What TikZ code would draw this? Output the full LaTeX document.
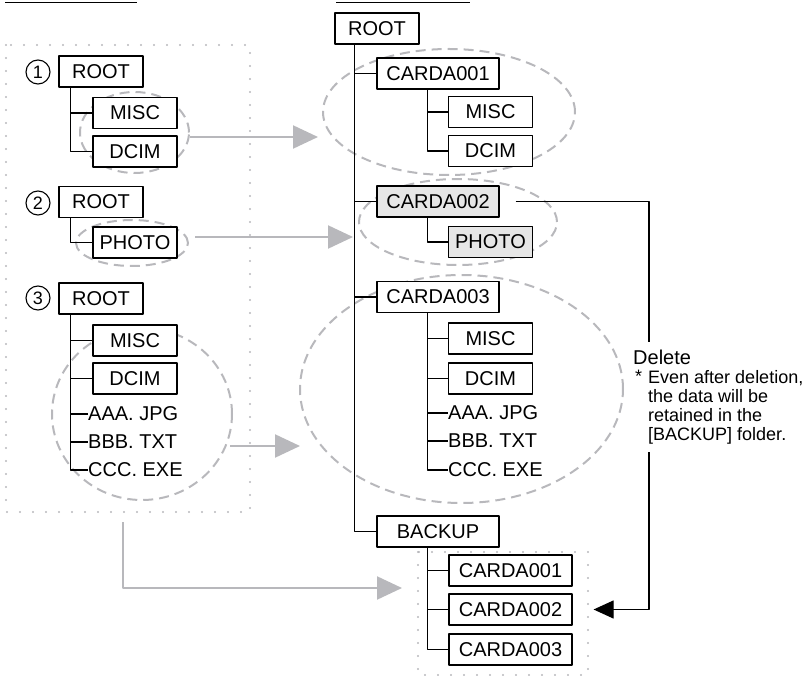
\documentclass[tikz,border=0pt]{standalone}
\usepackage{fontspec}
\setmainfont{Liberation Sans}
\usetikzlibrary{arrows.meta,shapes.geometric}
\definecolor{lgray}{RGB}{184,184,188}
\definecolor{fgray}{RGB}{230,230,230}
\begin{document}
\begin{tikzpicture}[x=1pt,y=-1pt,line join=round,font=\fontsize{20}{24}\selectfont,
	box/.style={draw,line width=1.2pt,fill=white,inner sep=0pt,minimum width=84pt,minimum height=31pt},
	wbox/.style={box,minimum width=122pt},
	grey/.style={fill=fgray},
	file/.style={anchor=west,inner sep=0pt},
	tree/.style={line width=1.2pt},
	ring/.style={ellipse,draw=lgray,line width=2pt,dash pattern=on 10pt off 6pt,inner sep=0pt},
	feed/.style={draw=lgray,line width=2.2pt,-{Triangle[length=25pt,width=23pt]}},
	dots/.style={draw=lgray,line width=2.4pt,line cap=round,dash pattern=on 0pt off 13pt},
	num/.style={draw,circle,line width=1.1pt,minimum size=24pt,inner sep=0pt,font=\fontsize{18}{20}\selectfont},
	note/.style={inner sep=0pt,font=\fontsize{18}{19}\selectfont}]
	\useasboundingbox (0,0) rectangle (809,676);
	\path
	(123,522) coordinate (out4)
	(402,588) coordinate (in4)
	(318,137) coordinate (in1)
	(195,237) coordinate (out2)
	(353,237) coordinate (in2)
	(230,446) coordinate (out3)
	(300,446) coordinate (in3)
	(649,342) coordinate (dtop)
	(649,452) coordinate (dbot)
	;
	% underlines of the column titles
	\draw[line width=1.2pt] (5,2.5) -- (137,2.5) (336,2.5) -- (470,2.5);
	% dotted frames
	\draw[dots] (6,45) rectangle (250,512);
	\draw[dots] (418,552) rectangle (588,675);
	% dashed rings
	\node[ring,minimum width=109pt,minimum height=81pt] (e1) at (134.5,132.5) {};
	\node[ring,minimum width=112pt,minimum height=46pt] (e2) at (132,243) {};
	\node[ring,minimum width=180pt,minimum height=172pt] (e3) at (142,414) {};
	\node[ring,minimum width=252pt,minimum height=126pt] (eA) at (449,112) {};
	\node[ring,minimum width=198pt,minimum height=86pt] (eB) at (458,222) {};
	\node[ring,minimum width=323pt,minimum height=228pt] (eC) at (461.5,389) {};
	% memory card
	\node[num] (n1) at (38,72) {1};
	\node[num] (n2) at (38,203) {2};
	\node[num] (n3) at (38,298) {3};
	\node[box] (root1) at (101,71.5) {ROOT};
	\node[box] (misc1) at (135,113) {MISC};
	\node[box] (dcim1) at (135,151.5) {DCIM};
	\node[box] (root2) at (101,202) {ROOT};
	\node[box] (photo2) at (135,242.5) {PHOTO};
	\node[box] (root3) at (101,298.5) {ROOT};
	\node[box] (misc3) at (135,340.5) {MISC};
	\node[box] (dcim3) at (135,378.5) {DCIM};
	\foreach \n/\t/\y in {aaa3/AAA. JPG/414,bbb3/BBB. TXT/442,ccc3/CCC. EXE/470}
		\node[file] (\n) at (88,\y) {\t};
	\foreach \p/\c in {root1/misc1,root1/dcim1,root2/photo2,root3/misc3,root3/dcim3,root3/aaa3,root3/bbb3,root3/ccc3}
		\draw[tree] ([xshift=12pt]\p.south west) |- (\c.west);
	% server
	\node[box] (rootR) at (377,28.5) {ROOT};
	\node[wbox] (carda1) at (438,73.5) {CARDA001};
	\node[box] (misc1R) at (490.5,112) {MISC};
	\node[box] (dcim1R) at (490.5,151) {DCIM};
	\node[wbox,grey] (carda2) at (438,201.5) {CARDA002};
	\node[box,grey] (photoR) at (490.5,242) {PHOTO};
	\node[wbox] (carda3) at (438,297) {CARDA003};
	\node[box] (misc3R) at (490.5,338.5) {MISC};
	\node[box] (dcim3R) at (490.5,378.5) {DCIM};
	\foreach \n/\t/\y in {aaaR/AAA. JPG/413,bbbR/BBB. TXT/441,cccR/CCC. EXE/470}
		\node[file] (\n) at (448,\y) {\t};
	\node[wbox] (backup) at (438,531.5) {BACKUP};
	\foreach \i/\y in {1/570.5,2/609.5,3/649.5}
		\node[wbox,minimum width=123pt] (bk\i) at (510.5,\y) {CARDA00\i};
	\foreach \c in {carda1,carda2,carda3,backup}
		\draw[tree] ([xshift=20pt]rootR.south west) |- (\c.west);
	\foreach \p/\c in {carda1/misc1R,carda1/dcim1R,carda2/photoR,carda3/misc3R,carda3/dcim3R,carda3/aaaR,carda3/bbbR,carda3/cccR,backup/bk1,backup/bk2,backup/bk3}
		\draw[tree] ([xshift=51pt]\p.south west) |- (\c.west);
	% copy arrows
	\draw[feed] (e1.east |- in1) -- (in1);
	\draw[feed] (out2) -- (in2);
	\draw[feed] (out3) -- (in3);
	\draw[feed] (out4) |- (in4);
	% delete
	\draw[tree] ([xshift=16pt]carda2.east) -| (dtop);
	\draw[tree,-{Triangle[length=20pt,width=18pt]}] (dbot) |- ([xshift=21pt]bk2.east);
	\node[anchor=base west,inner sep=0pt] (deltxt) at (633,365) {Delete};
	\node[note,anchor=base west] (delstar) at (635,383) {*};
	\node[note,anchor=north west,align=left] (delnote) at (648,370) {Even after deletion,\\the data will be\\retained in the\\{[BACKUP]} folder.};
\end{tikzpicture}
\end{document}
